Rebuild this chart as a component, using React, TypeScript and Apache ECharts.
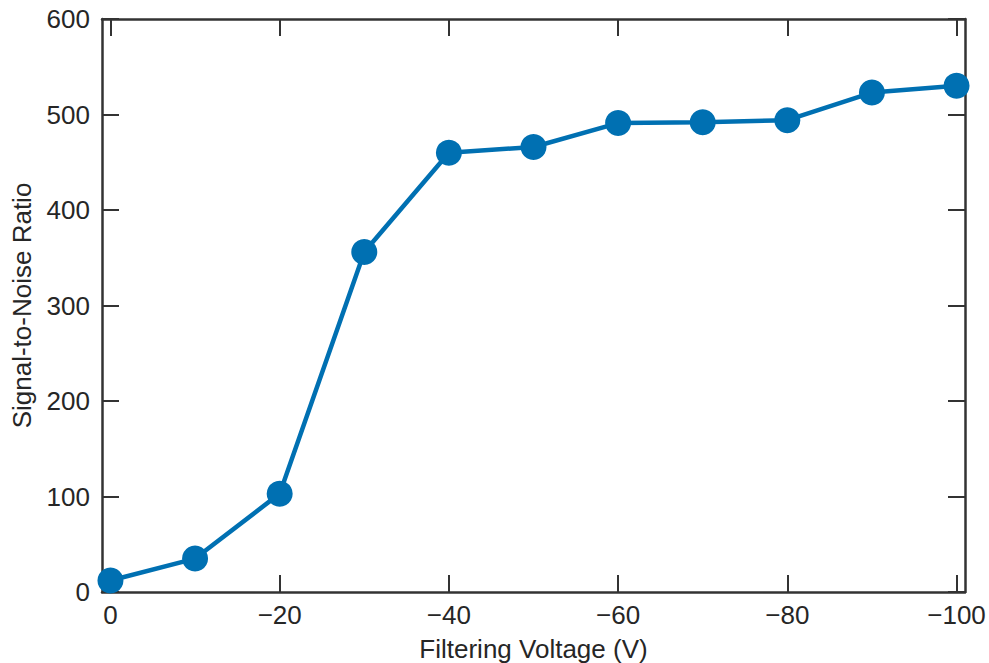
import React, { useEffect, useRef } from "react";
import * as echarts from "echarts";

const voltages = [0, -10, -20, -30, -40, -50, -60, -70, -80, -90, -100];
const snr = [12, 35, 103, 356, 460, 466, 491, 492, 494, 523, 530];
const xTicks = [0, -20, -40, -60, -80, -100];
const yTicks = [0, 100, 200, 300, 400, 500, 600];

const FONT = "Liberation Sans, Arial, Helvetica, sans-serif";
const AXIS_COLOR = "#333333";
const TEXT_COLOR = "#262626";
const LINE_COLOR = "#0070B2";

const fmtX = (v: number) => (v === 0 ? "0" : "\u2212" + Math.abs(v));

export default function App() {
  const ref = useRef<HTMLDivElement>(null);
  useEffect(() => {
    if (!ref.current) return;
    const chart = echarts.init(ref.current, undefined, { renderer: "svg" });
    const tickCommon = { inside: true, length: 17, lineStyle: { color: AXIS_COLOR, width: 2 } };
    const lineCommon = { show: true, onZero: false, lineStyle: { color: AXIS_COLOR, width: 2.5 } };
    chart.setOption({
      animation: false,
      backgroundColor: "#ffffff",
      grid: { left: 102, right: 24, top: 19, bottom: 71, containLabel: false, outerBoundsMode: "none" },
      xAxis: [
        {
          type: "value",
          inverse: true,
          min: -101,
          max: 1,
          axisLine: lineCommon,
          axisTick: { ...tickCommon, customValues: xTicks },
          axisLabel: {
            customValues: xTicks,
            formatter: fmtX,
            color: TEXT_COLOR,
            fontSize: 26,
            fontFamily: FONT,
            margin: 10,
          },
          splitLine: { show: false },
          name: "Filtering Voltage (V)",
          nameLocation: "middle",
          nameGap: 44,
          nameTextStyle: { color: TEXT_COLOR, fontSize: 26, fontFamily: FONT },
        },
        {
          type: "value",
          position: "top",
          inverse: true,
          min: -101,
          max: 1,
          axisLine: lineCommon,
          axisTick: { ...tickCommon, customValues: xTicks },
          axisLabel: { show: false, customValues: xTicks },
          splitLine: { show: false },
        },
      ],
      yAxis: [
        {
          type: "value",
          min: 0,
          max: 600,
          interval: 100,
          axisLine: lineCommon,
          axisTick: tickCommon,
          axisLabel: {
            color: TEXT_COLOR,
            fontSize: 26,
            fontFamily: FONT,
            margin: 12,
            customValues: yTicks,
          },
          splitLine: { show: false },
          name: "Signal-to-Noise Ratio",
          nameLocation: "middle",
          nameGap: 67,
          nameTextStyle: { color: TEXT_COLOR, fontSize: 26, fontFamily: FONT },
        },
        {
          type: "value",
          position: "right",
          min: 0,
          max: 600,
          interval: 100,
          axisLine: lineCommon,
          axisTick: tickCommon,
          axisLabel: { show: false },
          splitLine: { show: false },
        },
      ],
      series: [
        {
          type: "line",
          data: voltages.map((v, i) => [v, snr[i]]),
          symbol: "circle",
          symbolSize: 26,
          lineStyle: { color: LINE_COLOR, width: 4.5 },
          itemStyle: { color: LINE_COLOR },
          clip: false,
          z: 3,
        },
      ],
    });
    return () => chart.dispose();
  }, []);
  return <div ref={ref} style={{ width: 989, height: 663, position: "absolute", left: 0, top: 0 }} />;
}
